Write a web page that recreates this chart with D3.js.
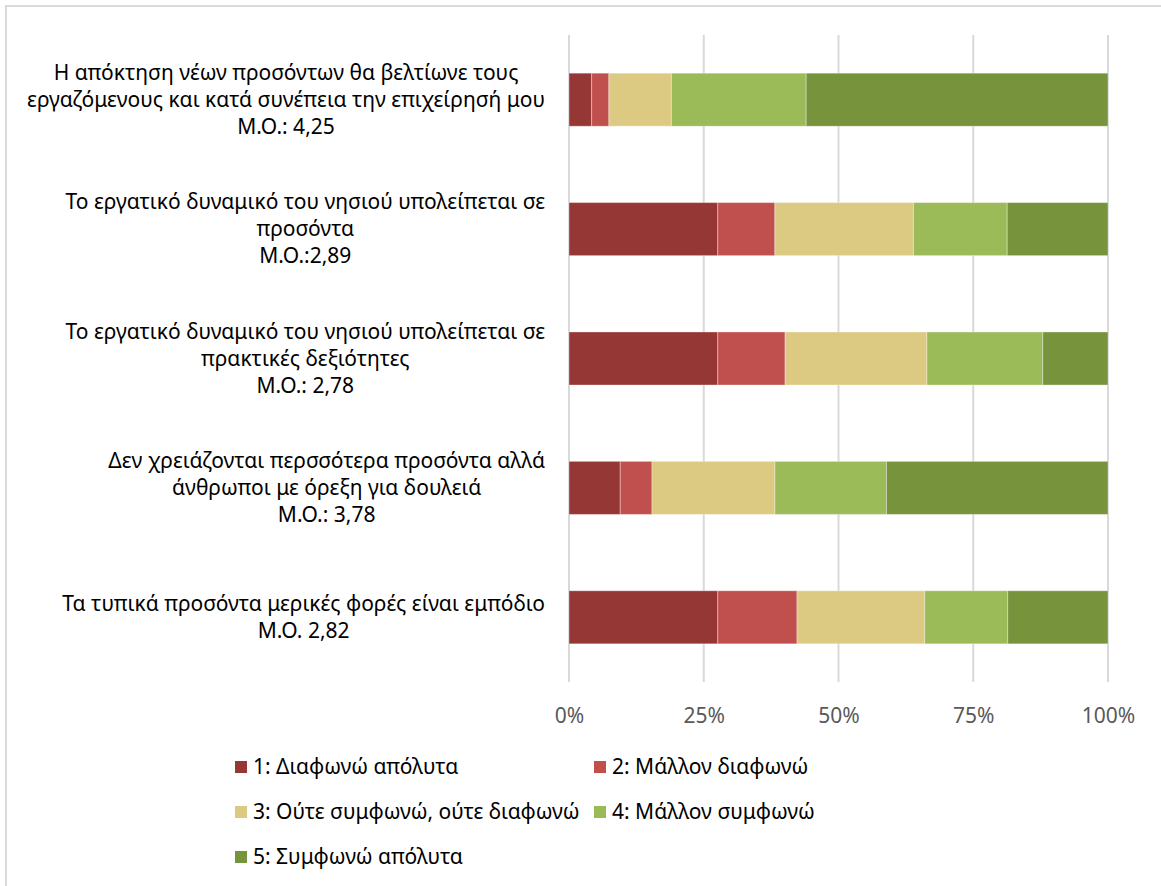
<!DOCTYPE html>
<html>
<head>
<meta charset="utf-8">
<script src="https://cdn.jsdelivr.net/npm/d3@7"></script>
<style>
  html, body { margin: 0; padding: 0; background: #fff; }
  svg { display: block; }
  text { font-family: "Noto Sans", "Open Sans", sans-serif; }
</style>
</head>
<body>
<svg id="chart" width="1161" height="886"></svg>
<script>
// ---- Data ----
const categories = [
  ["Η απόκτηση νέων προσόντων θα βελτίωνε τους", "εργαζόμενους και κατά συνέπεια την επιχείρησή μου", "Μ.Ο.: 4,25"],
  ["Το εργατικό δυναμικό του νησιού υπολείπεται σε", "προσόντα", "Μ.Ο.:2,89"],
  ["Το εργατικό δυναμικό του νησιού υπολείπεται σε", "πρακτικές δεξιότητες", "Μ.Ο.: 2,78"],
  ["Δεν χρειάζονται περσσότερα προσόντα αλλά", "άνθρωποι με όρεξη για δουλειά", "Μ.Ο.: 3,78"],
  ["Τα τυπικά προσόντα μερικές φορές είναι εμπόδιο", "Μ.Ο. 2,82"]
];
const seriesNames = ["1: Διαφωνώ απόλυτα", "2: Μάλλον διαφωνώ", "3: Ούτε συμφωνώ, ούτε διαφωνώ", "4: Μάλλον συμφωνώ", "5: Συμφωνώ απόλυτα"];
const s1 = [4.2, 27.6, 27.6, 9.5, 27.6];
const s2 = [3.2, 10.6, 12.5, 5.9, 14.7];
const s3 = [11.6, 25.7, 26.3, 22.8, 23.7];
const s4 = [25.0, 17.4, 21.5, 20.7, 15.4];
const s5 = [56.0, 18.7, 12.1, 41.1, 18.6];
const seriesValues = [s1, s2, s3, s4, s5];
const colors = ["#953735", "#C0504D", "#DDCA82", "#9BBB59", "#77933C"];
const tickValues = [0, 25, 50, 75, 100];
const tickLabels = ["0%", "25%", "50%", "75%", "100%"];

// ---- Layout ----
const svg = d3.select("#chart");
const plot = { left: 569, right: 1108, top: 35, bottom: 682 };
const labelRight = 545;
const fontSize = 21;
const lineH = 27;

// outer frame
svg.append("rect").attr("x", 6).attr("y", 6).attr("width", 1200).attr("height", 1000)
  .attr("fill", "none").attr("stroke", "#d9d9d9").attr("stroke-width", 2);

const x = d3.scaleLinear().domain([0, 100]).range([plot.left, plot.right]);
const y = d3.scaleBand().domain(d3.range(categories.length)).range([plot.top, plot.bottom]).paddingInner(0.59).paddingOuter(0.295);

// gridlines
svg.append("g").selectAll("line").data(tickValues).join("line")
  .attr("x1", d => x(d)).attr("x2", d => x(d))
  .attr("y1", plot.top).attr("y2", plot.bottom)
  .attr("stroke", "#d9d9d9").attr("stroke-width", 2);

// stacked data
const rows = categories.map((c, i) => {
  let acc = 0;
  return seriesValues.map((s, k) => {
    const x0 = acc; acc += s[i];
    return { i, k, x0, x1: acc };
  });
});
const total = rows.map(r => r[r.length - 1].x1);

svg.append("g").selectAll("g").data(rows).join("g")
  .selectAll("rect").data(d => d).join("rect")
  .attr("x", d => x(d.x0 / total[d.i] * 100))
  .attr("width", d => x(d.x1 / total[d.i] * 100) - x(d.x0 / total[d.i] * 100))
  .attr("y", d => y(d.i))
  .attr("height", y.bandwidth())
  .attr("fill", d => colors[d.k])
  .attr("stroke", "rgba(255,255,255,0.35)").attr("stroke-width", 1);

// x tick labels
const xAxis = d3.axisBottom(x).tickValues(tickValues).tickFormat((d, i) => tickLabels[i]).tickSize(0).tickPadding(0);
const gx = svg.append("g").attr("transform", `translate(0, 716)`).call(xAxis);
gx.select(".domain").remove();
gx.selectAll("text").attr("font-size", fontSize).attr("fill", "#595959")
  .attr("font-family", '"Noto Sans", sans-serif').attr("y", 0).attr("dy", "0.35em");

// category labels
const lg = svg.append("g");
categories.forEach((lines, i) => {
  const cy = y(i) + y.bandwidth() / 2;
  const t = lg.append("text").attr("font-size", fontSize).attr("fill", "#000").attr("text-anchor", "middle");
  const n = lines.length;
  const spans = lines.map((l, j) => t.append("tspan").text(l)
    .attr("y", cy + (j - (n - 1) / 2) * lineH).attr("dy", "0.35em"));
  const maxW = d3.max(spans, s => s.node().getComputedTextLength());
  spans.forEach(s => s.attr("x", labelRight - maxW / 2));
});

// legend
const legendPos = [[235, 767], [594, 767], [235, 812], [594, 812], [235, 857]];
const leg = svg.append("g").selectAll("g").data(seriesNames).join("g")
  .attr("transform", (d, i) => `translate(${legendPos[i][0]}, ${legendPos[i][1]})`);
leg.append("rect").attr("x", 0).attr("y", -6).attr("width", 12).attr("height", 12)
  .attr("fill", (d, i) => colors[i]);
leg.append("text").attr("x", 18).attr("y", 0).attr("dy", "0.35em")
  .attr("font-size", fontSize).attr("fill", "#000").text(d => d);
</script>
</body>
</html>
